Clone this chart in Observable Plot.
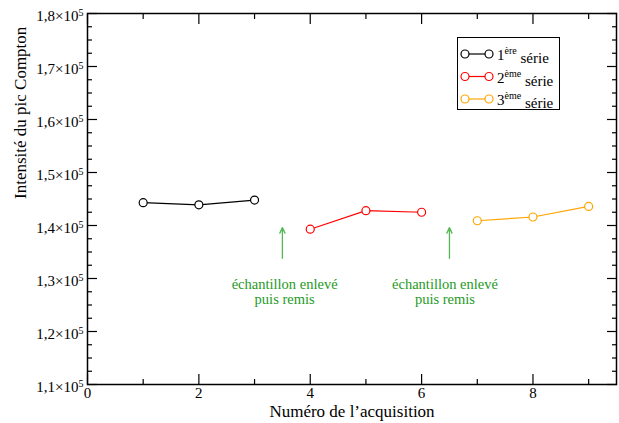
<!DOCTYPE html>
<html><head><meta charset="utf-8">
<script src="https://cdn.jsdelivr.net/npm/d3@7"></script>
<script src="https://cdn.jsdelivr.net/npm/@observablehq/plot@0.6"></script>
<style>
body{margin:0;background:#fff}
#chart{position:relative;width:619px;height:423px}
</style>
</head><body><div id="chart"></div>
<script>
// ---- data ----
const seriesKey = ["s1", "s2", "s3"];
const seriesNum = ["1", "2", "3"];
const seriesSup = ["ère", "ème", "ème"];
const seriesWord = "série";
const seriesColors = ["#000000", "#ff0000", "#ffa500"];
const acq1 = [1, 2, 3];
const val1 = [144300, 143900, 144800];
const acq2 = [4, 5, 6];
const val2 = [139300, 142800, 142500];
const acq3 = [7, 8, 9];
const val3 = [140900, 141600, 143600];

const xMajor = [0, 2, 4, 6, 8];
const xMinor = [1, 3, 5, 7, 9];
const yMajor = [110000, 120000, 130000, 140000, 150000, 160000, 170000, 180000];
const yMinor = [112500, 115000, 117500, 122500, 125000, 127500, 132500, 135000, 137500,
  142500, 145000, 147500, 152500, 155000, 157500, 162500, 165000, 167500, 172500, 175000, 177500];

const arrowX = [3.5, 6.5];
const arrowFrom = 133800;
const arrowTo = 139600;
const noteX = [3.54, 6.42];
const noteY = 127500;
const noteText = "échantillon enlevé\npuis remis";
const xTitle = "Numéro de l’acquisition";
const yTitle = "Intensité du pic Compton";

// ---- table ----
const accs = [acq1, acq2, acq3], vals = [val1, val2, val3];
const data = [];
accs.forEach((xs, i) => xs.forEach((x, j) => data.push({acq: x, val: vals[i][j], serie: seriesKey[i]})));

const serif = "'Liberation Serif', 'Times New Roman', serif";
const green = "#1e9a1e";
const greenArrow = "#55b855";
const yFmt = d => (d / 1e5).toFixed(1).replace(".", ",") + "×10";

function ticks(values, k, anchor, size) {
  const opts = {anchor, tickSize: size, label: null, fill: "none", tickFormat: () => "", stroke: "black", strokeWidth: 1.2};
  if (k === "x") opts.dy = anchor === "bottom" ? -size : size;
  else opts.dx = anchor === "left" ? size : -size;
  return k === "x" ? Plot.axisX(values, opts) : Plot.axisY(values, opts);
}

const plot = Plot.plot({
  width: 619, height: 423,
  marginLeft: 87, marginRight: 3, marginTop: 13, marginBottom: 39,
  style: {fontFamily: serif, fontSize: "15px", background: "white", color: "black"},
  x: {domain: [0, 9.5], axis: null, label: null},
  y: {domain: [110000, 180000], axis: null, label: null},
  color: {domain: seriesKey, range: seriesColors},
  marks: [
    ticks(xMajor, "x", "bottom", 10), ticks(xMinor, "x", "bottom", 5),
    ticks(xMajor, "x", "top", 10), ticks(xMinor, "x", "top", 5),
    ticks(yMajor, "y", "left", 10), ticks(yMinor, "y", "left", 5),
    ticks(yMajor, "y", "right", 10), ticks(yMinor, "y", "right", 5),
    Plot.axisX(xMajor, {anchor: "bottom", tickSize: 0, tickPadding: 3, label: null, fontSize: 15, tickFormat: d => String(d)}),
    Plot.axisY(yMajor, {anchor: "left", tickSize: 0, tickPadding: 4, dy: 3, label: null, fontSize: 15, tickFormat: yFmt}),
    Plot.frame({stroke: "black", strokeWidth: 1.5}),
    Plot.line(data, {x: "acq", y: "val", z: "serie", stroke: "serie", strokeWidth: 1.2}),
    Plot.dot(data, {x: "acq", y: "val", stroke: "serie", fill: "white", r: 4, strokeWidth: 1.2}),
    Plot.arrow(arrowX, {x: d => d, y1: () => arrowFrom, y2: () => arrowTo, stroke: greenArrow, strokeWidth: 1.3, headLength: 7, headAngle: 50}),
    Plot.text(noteX, {x: d => d, y: () => noteY, text: () => noteText, fill: green, fontSize: 14.5, lineHeight: 1.05}),
    Plot.text([xTitle], {frameAnchor: "bottom", dy: 32.5, fontSize: 17, fill: "black"}),
    Plot.text([yTitle], {frameAnchor: "left", dx: -67, rotate: -90, fontSize: 17, fill: "black"})
  ]
});
document.getElementById("chart").appendChild(plot);

// superscript exponent on y tick labels
const svg = d3.select(plot);
svg.selectAll('g[aria-label="y-axis tick label"] text').each(function() {
  d3.select(this).append("tspan").attr("dy", "-0.5em").attr("font-size", 10).text("5");
});

// legend
const lg = svg.append("g").attr("font-family", serif).attr("text-anchor", "start");
lg.append("rect").attr("x", 457.5).attr("y", 37.5).attr("width", 102).attr("height", 72)
  .attr("fill", "white").attr("stroke", "black").attr("stroke-width", 1);
seriesKey.forEach((k, i) => {
  const cy = 54 + i * 22.5;
  const c = seriesColors[i];
  lg.append("line").attr("x1", 465).attr("x2", 489).attr("y1", cy).attr("y2", cy).attr("stroke", c).attr("stroke-width", 1.2);
  [465, 489].forEach(cx => lg.append("circle").attr("cx", cx).attr("cy", cy).attr("r", 4).attr("fill", "white").attr("stroke", c).attr("stroke-width", 1.2));
  const t = lg.append("text").attr("x", 497).attr("y", cy + 6).attr("font-size", 15).attr("fill", "black").attr("text-anchor", "start");
  t.append("tspan").text(seriesNum[i]);
  t.append("tspan").attr("dy", "-0.6em").attr("font-size", 10).text(seriesSup[i]);
  t.append("tspan").attr("dy", "0.6em").attr("font-size", 15).text("\u00a0" + seriesWord);
});
</script>
</body></html>
